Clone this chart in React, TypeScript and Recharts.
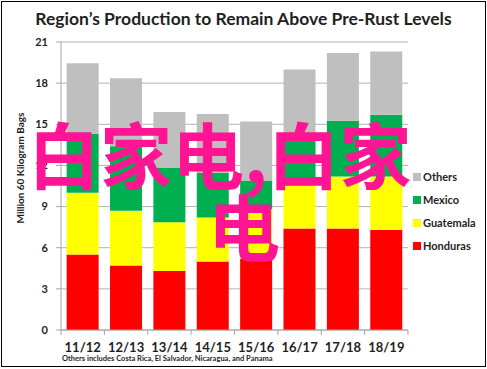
import { BarChart, Bar, XAxis, YAxis, CartesianGrid } from "recharts";

const categories = ["11/12", "12/13", "13/14", "14/15", "15/16", "16/17", "17/18", "18/19"];
const honduras = [5.5, 4.7, 4.3, 5.0, 5.2, 7.4, 7.4, 7.3];
const guatemala = [4.5, 4.0, 3.55, 3.2, 3.6, 3.15, 3.8, 3.9];
const mexico = [4.3, 4.7, 4.0, 3.25, 2.1, 3.75, 4.05, 4.5];
const others = [5.15, 4.95, 4.05, 4.3, 4.3, 4.7, 4.95, 4.6];
const yTicks = [0, 3, 6, 9, 12, 15, 18, 21];

const SERIES = [
  { key: "others", name: "Others", color: "#bfbfbf" },
  { key: "mexico", name: "Mexico", color: "#00b050" },
  { key: "guatemala", name: "Guatemala", color: "#ffff00" },
  { key: "honduras", name: "Honduras", color: "#ff0000" },
];

const FONT = "Lato, 'Open Sans', sans-serif";
const TEXT = "#1f1f1f";
const CJK = "'Noto Sans CJK SC', sans-serif";

const data = categories.map((c, i) => ({
  name: c,
  honduras: honduras[i],
  guatemala: guatemala[i],
  mexico: mexico[i],
  others: others[i],
}));

function XTick(props: any) {
  const { x, y, payload, index } = props;
  const off = payload.offset ?? 0;
  return (
    <g>
      <line x1={x - off} x2={x - off} y1={y - 8} y2={y - 3} stroke="#a6a6a6" />
      {index === categories.length - 1 && (
        <line x1={x + off} x2={x + off} y1={y - 8} y2={y - 3} stroke="#a6a6a6" />
      )}
      <text x={x} y={y + 14} textAnchor="middle" fontFamily={FONT} fontWeight={700} fontSize={13} fill={TEXT}>
        {payload.value}
      </text>
    </g>
  );
}

const overlay = {
  position: "absolute" as const,
  fontFamily: CJK,
  fontWeight: 700,
  fontSize: 72,
  lineHeight: "72px",
  color: "#ff1493",
  whiteSpace: "nowrap" as const,
  pointerEvents: "none" as const,
};

export default function App() {
  return (
    <div style={{ position: "absolute", left: 0, top: 0, width: 487, height: 369, background: "#fff", overflow: "hidden" }}>
      <div style={{ position: "absolute", left: 1, top: 1, width: 483, height: 364, border: "1px solid #000" }} />
      <div
        style={{
          position: "absolute",
          left: 0,
          top: 8,
          width: 487,
          textAlign: "center",
          fontFamily: FONT,
          fontWeight: 700,
          fontSize: 17.5,
          color: TEXT,
        }}
      >
        Region’s Production to Remain Above Pre-Rust Levels
      </div>
      <BarChart
        width={487}
        height={369}
        data={data}
        margin={{ top: 42, right: 79, bottom: 0, left: 0 }}
        barCategoryGap="13%"
        style={{ position: "absolute", left: 0, top: 0 }}
      >
        <CartesianGrid vertical={false} stroke="#b3b3b3" />
        <XAxis
          dataKey="name"
          tick={<XTick />}
          tickLine={false}
          axisLine={{ stroke: "#a6a6a6" }}
          interval={0}
          height={39}
        />
        <YAxis
          domain={[0, 21]}
          ticks={yTicks}
          width={61}
          tickSize={5}
          tickMargin={8}
          tickLine={{ stroke: "#a6a6a6" }}
          axisLine={{ stroke: "#a6a6a6" }}
          tick={{ fontFamily: FONT, fontWeight: 700, fontSize: 11, fill: TEXT }}
          label={{
            value: "Million 60 Kilogram Bags",
            angle: -90,
            position: "insideLeft",
            offset: 20,
            dy: -18,
            style: { fontFamily: FONT, fontWeight: 700, fontSize: 10, fill: TEXT, textAnchor: "middle" },
          }}
        />
        {SERIES.slice().reverse().map((s) => (
          <Bar key={s.key} dataKey={s.key} name={s.name} stackId="a" fill={s.color} isAnimationActive={false} />
        ))}
      </BarChart>
      <div style={{ position: "absolute", left: 413, top: 165, fontFamily: FONT, fontWeight: 700, fontSize: 11, color: TEXT }}>
        {SERIES.map((s) => (
          <div key={s.key} style={{ display: "flex", alignItems: "center", height: 23 }}>
            <span style={{ display: "inline-block", width: 8, height: 8, background: s.color, marginRight: 2 }} />
            <span>{s.name}</span>
          </div>
        ))}
      </div>
      <div
        style={{
          position: "absolute",
          left: 62,
          top: 354,
          fontFamily: FONT,
          fontWeight: 700,
          fontSize: 7.5,
          color: TEXT,
          whiteSpace: "nowrap",
        }}
      >
        Others includes Costa Rica, El Salvador, Nicaragua, and Panama
      </div>
      <div style={{ ...overlay, left: 28, top: 116 }}>白家电,白家</div>
      <div style={{ ...overlay, left: 208, top: 188 }}>电</div>
    </div>
  );
}
